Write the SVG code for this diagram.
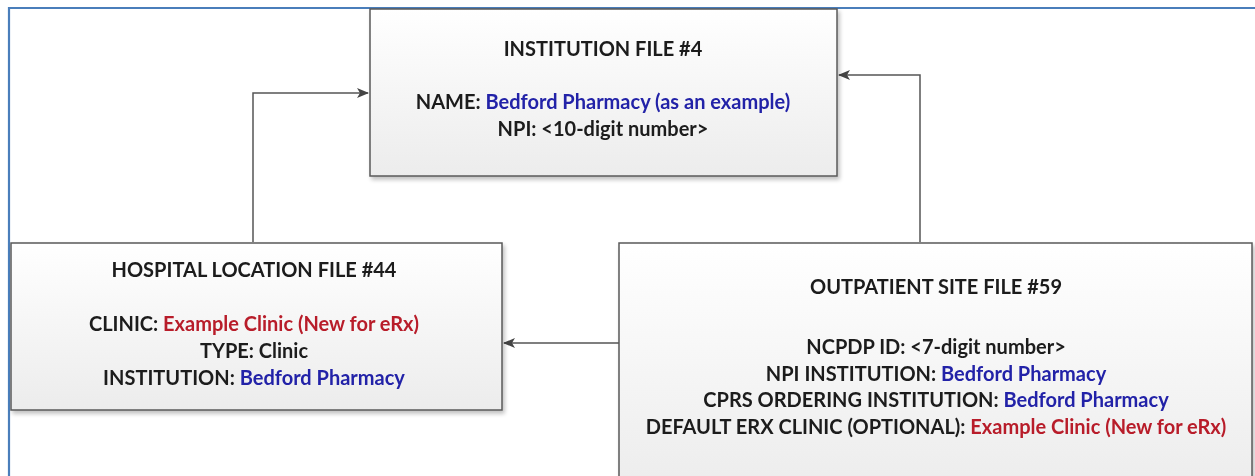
<svg xmlns="http://www.w3.org/2000/svg" width="1255" height="476" viewBox="0 0 1255 476">
<style>
.box{fill:url(#g);stroke:#5a5a5a;stroke-width:1.5}
.t{font-family:Lato,"Liberation Sans",sans-serif;font-weight:bold;font-size:20px;fill:#1a1a1a;text-anchor:middle}
.b{fill:#2424a8}
.r{fill:#b81e2a}
.c{fill:none;stroke:#555;stroke-width:1.5}
.frame{stroke:#4a7ebb;stroke-width:2.2;fill:none}
</style>
<defs>
<linearGradient id="g" x1="0" y1="0" x2="0" y2="1">
<stop offset="0" stop-color="#ffffff"/>
<stop offset="1" stop-color="#ececec"/>
</linearGradient>
<filter id="sh" x="-5%" y="-5%" width="110%" height="115%">
<feGaussianBlur in="SourceAlpha" stdDeviation="2"/>
<feOffset dx="2" dy="3"/>
<feComponentTransfer><feFuncA type="linear" slope="0.25"/></feComponentTransfer>
<feMerge><feMergeNode/><feMergeNode in="SourceGraphic"/></feMerge>
</filter>
<marker id="ah" markerWidth="12" markerHeight="10" refX="11" refY="5" orient="auto" markerUnits="userSpaceOnUse">
<path d="M0,0 L12,5 L0,10 L3,5 Z" fill="#444"/>
</marker>
</defs>
<rect width="1255" height="476" fill="#fff"/>
<path class="frame" d="M9,476 V8 H1255"/>
<g id="connectors">
<path class="c" d="M253,242 V93 H368" marker-end="url(#ah)"/>
<path class="c" d="M920,242 V75 H839" marker-end="url(#ah)"/>
<path class="c" d="M619,343 H504" marker-end="url(#ah)"/>
</g>
<g id="institution" filter="url(#sh)">
<rect class="box" x="370" y="9" width="467" height="167"/>
<text class="t" x="603" y="56">INSTITUTION FILE #4</text>
<text class="t" x="603" y="109">NAME: <tspan class="b">Bedford Pharmacy (as an example)</tspan></text>
<text class="t" x="603" y="136">NPI: &lt;10-digit number&gt;</text>
</g>
<g id="hospital" filter="url(#sh)">
<rect class="box" x="11" y="243" width="491" height="167"/>
<text class="t" x="254" y="277">HOSPITAL LOCATION FILE #44</text>
<text class="t" x="254" y="331">CLINIC: <tspan class="r">Example Clinic (New for eRx)</tspan></text>
<text class="t" x="254" y="358">TYPE: Clinic</text>
<text class="t" x="254" y="385">INSTITUTION: <tspan class="b">Bedford Pharmacy</tspan></text>
</g>
<g id="outpatient" filter="url(#sh)">
<rect class="box" x="619" y="243" width="633" height="250"/>
<text class="t" x="936" y="294">OUTPATIENT SITE FILE #59</text>
<text class="t" x="936" y="354">NCPDP ID: &lt;7-digit number&gt;</text>
<text class="t" x="936" y="381">NPI INSTITUTION: <tspan class="b">Bedford Pharmacy</tspan></text>
<text class="t" x="936" y="407">CPRS ORDERING INSTITUTION: <tspan class="b">Bedford Pharmacy</tspan></text>
<text class="t" x="936" y="434">DEFAULT ERX CLINIC (OPTIONAL): <tspan class="r">Example Clinic (New for eRx)</tspan></text>
</g>
</svg>
